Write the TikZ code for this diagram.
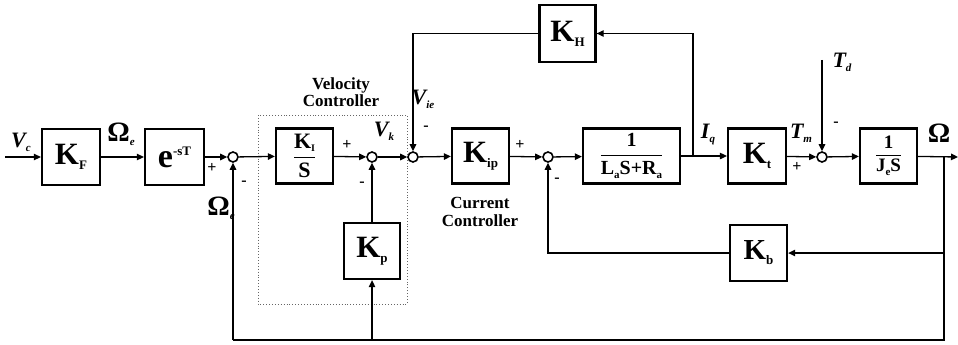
\documentclass[tikz,border=0pt]{standalone}
\usepackage{fontspec}
\usepackage{amsmath}
\setmainfont{Liberation Serif}
\usetikzlibrary{arrows.meta}
\newcommand\KB[3][31]{{\fontsize{#1}{#1}\selectfont\bfseries #2}\raisebox{-5pt}{\fontsize{13}{13}\selectfont\bfseries #3}}
\newcommand\Lsub[2]{#1\raisebox{-4pt}{\fontsize{11}{11}\selectfont #2}}
\newcommand\Osub[1]{{\fontsize{28}{28}\selectfont\bfseries Ω}\raisebox{-4pt}{\fontsize{11}{11}\selectfont\bfseries\itshape #1}}
\begin{document}
\begin{tikzpicture}[x=1pt,y=-1pt,
  blk/.style={draw, line width=2.3pt, inner sep=0pt},
  sumj/.style={circle, draw, line width=1.6pt, minimum size=10pt, inner sep=0pt},
  wire/.style={line width=1.3pt},
  sig/.style={line width=1.3pt, -{Triangle[length=7pt,width=6.5pt]}},
  lab/.style={font=\fontsize{22}{22}\selectfont\bfseries\itshape, inner sep=0pt},
  pm/.style={font=\fontsize{16}{16}\selectfont\bfseries, inner sep=0pt},
  captxt/.style={font=\fontsize{17}{17.5}\selectfont\bfseries, align=center, inner sep=0pt}]
\useasboundingbox (0,0) rectangle (958,345);
% velocity controller region
\draw[dotted, line width=0.9pt, black!60] (258,115) rectangle (407,304);
% blocks
\node[blk, minimum width=58pt, minimum height=56pt] (KF) at (71,157) {\KB{K}{F}};
\node[blk, minimum width=59pt, minimum height=56pt] (eT) at (174.5,157)
  {{\fontsize{34}{34}\selectfont\bfseries e}\raisebox{12pt}{\fontsize{13}{13}\selectfont\bfseries -sT}};
\node[blk, minimum width=57pt, minimum height=55pt] (KI) at (304.5,156)
  {\fontsize{22}{22}\selectfont $\dfrac{\text{\bfseries K\raisebox{-3pt}{\fontsize{10}{10}\selectfont I}}}{\text{\bfseries S}}$};
\node[blk, minimum width=56pt, minimum height=56pt] (Kp) at (372,251) {\KB{K}{p}};
\node[blk, minimum width=57pt, minimum height=55pt] (Kip) at (480.5,156) {\KB{K}{ip}};
\node[blk, minimum width=97pt, minimum height=55pt] (P) at (631.5,156)
  {\fontsize{20}{20}\selectfont $\dfrac{\text{\bfseries 1}}{\text{\bfseries L\raisebox{-4pt}{\fontsize{11}{11}\selectfont a}S+R\raisebox{-4pt}{\fontsize{11}{11}\selectfont a}}}$};
\node[blk, minimum width=56pt, minimum height=57pt] (KH) at (567.5,33.5) {\KB{K}{H}};
\node[blk, minimum width=58pt, minimum height=55pt] (Kt) at (757,156) {\KB{K}{t}};
\node[blk, minimum width=57pt, minimum height=55pt] (Je) at (888.5,156)
  {\fontsize{19}{19}\selectfont $\dfrac{\text{\bfseries 1}}{\text{\bfseries J\raisebox{-4pt}{\fontsize{11}{11}\selectfont e}S}}$};
\node[blk, minimum width=57pt, minimum height=56pt] (Kb) at (758.5,253) {\KB[29]{K}{b}};
% summing junctions
\node[sumj] (s1) at (233,157) {};
\node[sumj] (s2) at (372,157) {};
\node[sumj] (s3) at (413,157) {};
\node[sumj] (s4) at (548,157) {};
\node[sumj] (s5) at (822,157) {};
% free ends and branch points
\coordinate (in) at (5,157);
\coordinate (out) at (958,157);
\coordinate (bI) at (693,157);
\coordinate (bO) at (944,157);
\coordinate (bot) at (944,340);
\coordinate (botL) at (233,340);
\coordinate (Td) at (822,60);
% forward path
\draw[sig] (in) -- (KF);
\draw[sig] (KF) -- (eT);
\draw[sig] (eT) -- (s1);
\draw[sig] (s1) -- (KI);
\draw[sig] (KI) -- (s2);
\draw[sig] (s2) -- (s3);
\draw[sig] (s3) -- (Kip);
\draw[sig] (Kip) -- (s4);
\draw[sig] (s4) -- (P);
\draw[sig] (P) -- (Kt);
\draw[sig] (Kt) -- (s5);
\draw[sig] (s5) -- (Je);
\draw[sig] (Je) -- (out);
% feedback paths
\draw[sig] (bI) |- (KH.east);
\draw[sig] (KH.west) -| (s3.north);
\draw[sig] (bO) |- (Kb.east);
\draw[sig] (Kb.west) -| (s4.south);
\draw[wire] (bO) -- (bot) -- (botL);
\draw[sig] (botL) -- (s1.south);
\draw[sig] (Kp.south |- bot) -- (Kp.south);
\draw[sig] (Kp) -- (s2);
\draw[sig] (Td) -- (s5.north);
% signal labels
\node[lab] at (21,142) {\Lsub{V}{c}};
\node[inner sep=0pt] at (121,134) {\Osub{e}};
\node[inner sep=0pt] at (221,208) {\Osub{e}};
\node[lab] at (384,131) {\Lsub{V}{k}};
\node[lab] at (423,99) {\Lsub{V}{ie}};
\node[lab] at (708,134) {\Lsub{I}{q}};
\node[lab] at (801,133) {\Lsub{T}{m}};
\node[lab] at (842,62) {\Lsub{T}{d}};
\node[inner sep=0pt] at (939,133) {{\fontsize{28}{28}\selectfont\bfseries Ω}};
% signs
\node[pm] at (212,168) {+};
\node[pm] at (244,183) {-};
\node[pm] at (347,145) {+};
\node[pm] at (362,184) {-};
\node[pm] at (426,128) {-};
\node[pm] at (520,145) {+};
\node[pm] at (557,180) {-};
\node[pm] at (797,167) {+};
\node[pm] at (836,124) {-};
% captions
\node[captxt] at (341,92) {Velocity\\Controller};
\node[captxt] at (480,212) {Current\\Controller};
\end{tikzpicture}
\end{document}
